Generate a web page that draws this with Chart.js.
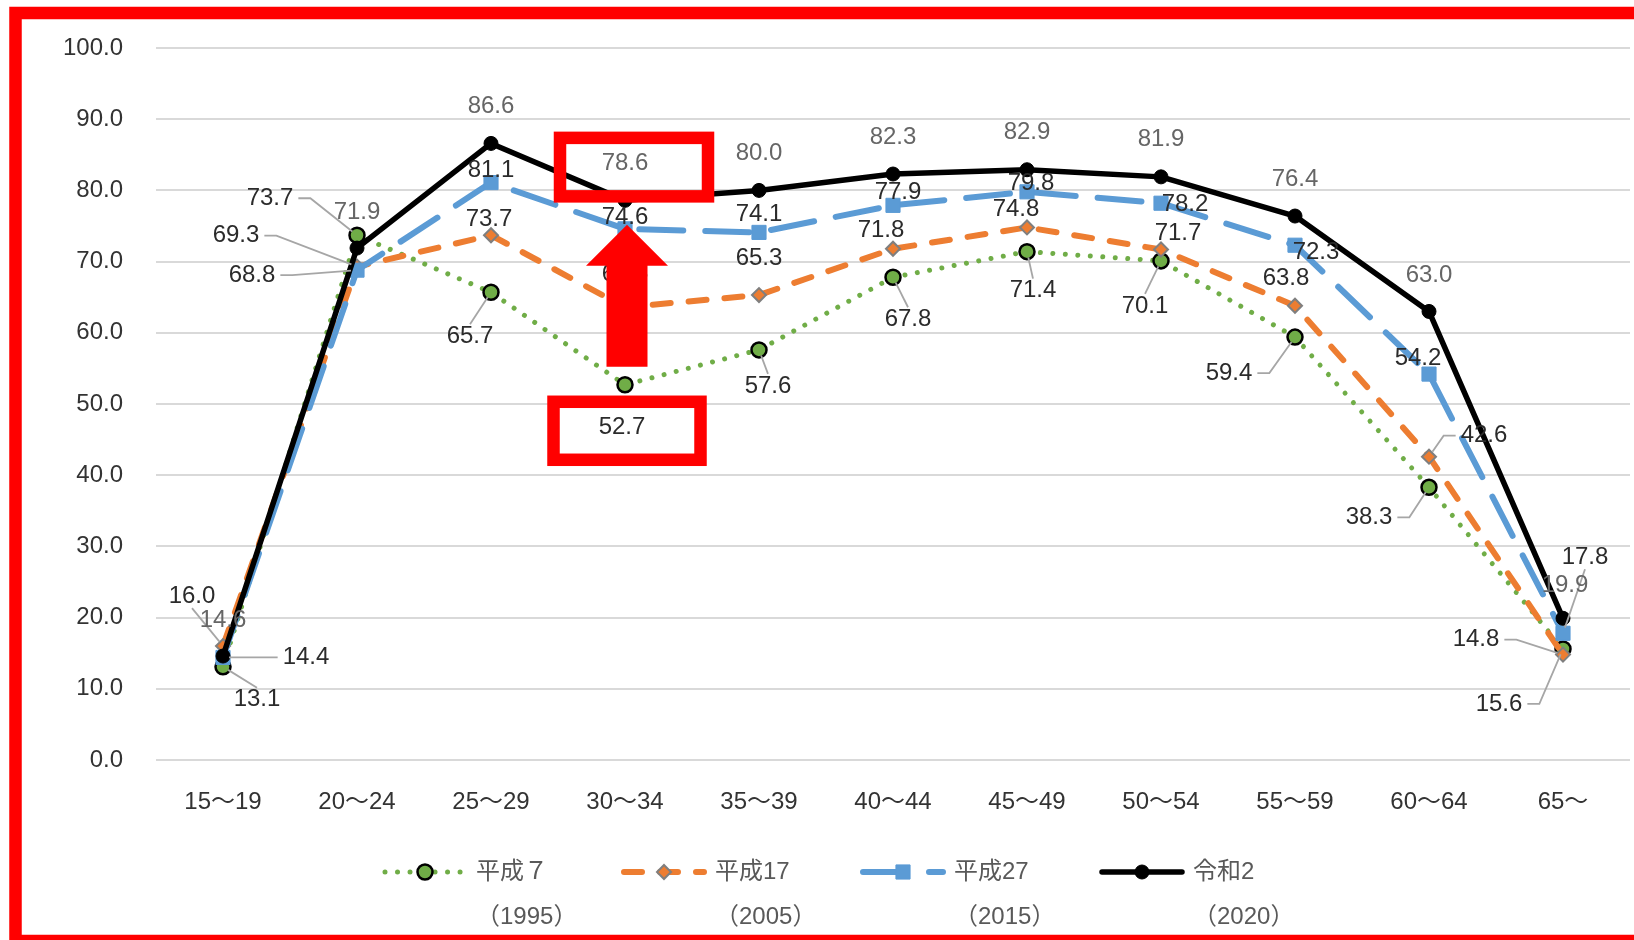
<!DOCTYPE html>
<html lang="ja">
<head>
  <meta charset="UTF-8">
  <title>年齢階級別 女性の労働力率</title>
  <script src="https://cdn.jsdelivr.net/npm/chart.js"></script>
  <style>
    html, body { margin: 0; padding: 0; background: #fff; }
    #wrap { width: 1634px; height: 940px; }
  </style>
</head>
<body>
  <div id="wrap"><canvas id="grafico" width="1634" height="940"></canvas></div>

  <script>
    // categorias (idade) e valores (%)
    const categories = ['15〜19', '20〜24', '25〜29', '30〜34', '35〜39', '40〜44', '45〜49', '50〜54', '55〜59', '60〜64', '65〜'];
    const heisei7 = [13.1, 73.7, 65.7, 52.7, 57.6, 67.8, 71.4, 70.1, 59.4, 38.3, 15.6];
    const heisei17 = [16.0, 69.3, 73.7, 63.6, 65.3, 71.8, 74.8, 71.7, 63.8, 42.6, 14.8];
    const heisei27 = [14.4, 68.8, 81.1, 74.6, 74.1, 77.9, 79.8, 78.2, 72.3, 54.2, 17.8];
    const reiwa2 = [14.6, 71.9, 86.6, 78.6, 80.0, 82.3, 82.9, 81.9, 76.4, 63.0, 19.9];
    const seriesNames = ['平成７', '平成17', '平成27', '令和2'];
    const seriesYears = ['（1995）', '（2005）', '（2015）', '（2020）'];
    const yTicks = [0, 10, 20, 30, 40, 50, 60, 70, 80, 90, 100];

    // posição do rótulo em relação ao ponto: [dx, dy, linha guia]
    const offsH7 = [[34, 33, 'v'], [-87, -37, 'h'], [-21, 44, 'v'], [-3, 43, 0], [9, 36, 'v'], [15, 42, 'v'], [6, 39, 'v'], [-16, 45, 'v'], [-66, 36, 'h'], [-60, 30, 'h'], [-64, 55, 'h']];
    const offsH17 = [[-31, -50, 'v'], [-121, -31, 'h'], [-2, -16, 0], [0, -33, 0], [0, -37, 0], [-12, -18, 0], [-11, -18, 0], [17, -16, 0], [-9, -27, 0], [55, -21, 'h'], [-87, -15, 'h']];
    const offsH27 = [[83, 0, 'h'], [-105, 5, 'h'], [0, -12, 0], [0, -11, 0], [0, -18, 0], [5, -13, 0], [4, -8, 0], [24, 1, 0], [21, 7, 0], [-11, -16, 0], [22, -76, 'v']];
    const offsR2 = [[0, -36, 0], [0, -36, 0], [0, -37, 0], [0, -37, 0], [0, -37, 0], [0, -37, 0], [0, -37, 0], [0, -37, 0], [0, -37, 0], [0, -36, 0], [2, -33, 0]];
    const labelOffsets = [offsH7, offsH17, offsH27, offsR2];
    const labelColors = ['#2b2b2b', '#2b2b2b', '#2b2b2b', '#666666'];

    const FONT = '"Liberation Sans", "Noto Sans CJK JP", sans-serif';
    Chart.defaults.font.family = FONT;
    Chart.defaults.font.size = 24;

    function drawMarker(ctx, ds, x, y) {
      const r = ds.pointRadius;
      ctx.save();
      ctx.setLineDash([]);
      ctx.fillStyle = ds.pointBackgroundColor;
      ctx.strokeStyle = ds.pointBorderColor;
      ctx.lineWidth = ds.pointBorderWidth;
      ctx.beginPath();
      if (ds.pointStyle === 'circle') {
        ctx.arc(x, y, r, 0, Math.PI * 2);
      } else if (ds.pointStyle === 'rect') {
        const s = r * Math.SQRT1_2;
        ctx.rect(x - s, y - s, 2 * s, 2 * s);
      } else {
        ctx.moveTo(x, y - r); ctx.lineTo(x + r, y); ctx.lineTo(x, y + r); ctx.lineTo(x - r, y); ctx.closePath();
      }
      ctx.fill();
      ctx.stroke();
      ctx.restore();
    }

    // rótulos de dados + linhas guia
    const pointLabels = {
      id: 'pointLabels',
      afterDatasetsDraw(chart) {
        const ctx = chart.ctx;
        ctx.save();
        ctx.font = '24px ' + FONT;
        ctx.textAlign = 'center';
        ctx.textBaseline = 'middle';
        chart.data.datasets.forEach((ds, i) => {
          const meta = chart.getDatasetMeta(i);
          meta.data.forEach((pt, j) => {
            const [dx, dy, leader] = labelOffsets[i][j];
            const txt = ds.data[j].toFixed(1);
            const tx = pt.x + dx, ty = pt.y + dy;
            const w = ctx.measureText(txt).width;
            if (leader) {
              let sx, sy, ex, ey;
              if (leader === 'h') {
                const dir = dx < 0 ? 1 : -1;
                sx = tx + dir * (w / 2 + 5); sy = ty;
                ex = sx + dir * 12; ey = ty;
              } else {
                sx = tx; sy = ty + (dy > 0 ? -12 : 12);
                ex = sx; ey = sy;
              }
              const vx = pt.x - ex, vy = pt.y - ey;
              const d = Math.hypot(vx, vy) || 1;
              ctx.beginPath();
              ctx.strokeStyle = '#a6a6a6';
              ctx.lineWidth = 1.8;
              ctx.moveTo(sx, sy);
              ctx.lineTo(ex, ey);
              ctx.lineTo(pt.x - vx / d * 6, pt.y - vy / d * 6);
              ctx.stroke();
            }
            ctx.fillStyle = labelColors[i];
            ctx.fillText(txt, tx, ty);
          });
        });
        ctx.restore();
      }
    };

    // legenda em duas linhas, caixas vermelhas, seta e moldura
    const overlay = {
      id: 'overlay',
      afterDraw(chart) {
        const ctx = chart.ctx;
        ctx.save();

        // legenda
        const legY = 872, legY2 = 917;
        chart.data.datasets.forEach((ds, i) => {
          const x0 = 385 + i * 239;
          ctx.save();
          ctx.strokeStyle = ds.borderColor;
          ctx.lineWidth = ds.borderWidth;
          ctx.lineCap = 'round';
          ctx.setLineDash(ds.borderDash || []);
          ctx.beginPath();
          ctx.moveTo(x0, legY);
          ctx.lineTo(x0 + 80, legY);
          ctx.stroke();
          ctx.restore();
          drawMarker(ctx, ds, x0 + 40, legY);
          ctx.fillStyle = '#595959';
          ctx.font = '24px ' + FONT;
          ctx.textAlign = 'left';
          ctx.textBaseline = 'middle';
          ctx.fillText(seriesNames[i], x0 + 91, legY);
          ctx.fillText(seriesYears[i], x0 + 91, legY2);
        });

        // destaque 30〜34
        const k = categories.indexOf('30〜34');
        const pG = chart.getDatasetMeta(0).data[k];
        const pB = chart.getDatasetMeta(2).data[k];
        const pR = chart.getDatasetMeta(3).data[k];
        ctx.strokeStyle = '#ff0000';
        ctx.lineWidth = 12.5;
        const l1x = pR.x + offsR2[k][0] + 9, l1y = pR.y + offsR2[k][1] + 3.5;
        ctx.strokeRect(l1x - 74, l1y - 29, 148, 58.5);
        const l2x = pG.x + offsH7[k][0] + 5, l2y = pG.y + offsH7[k][1] + 3;
        ctx.strokeRect(l2x - 73.5, l2y - 29, 147, 58);

        const ax = pG.x + 2, tip = pB.y - 4, base = tip + 41, bottom = pG.y - 18;
        ctx.fillStyle = '#ff0000';
        ctx.beginPath();
        ctx.moveTo(ax, tip);
        ctx.lineTo(ax + 41, base);
        ctx.lineTo(ax + 20.5, base);
        ctx.lineTo(ax + 20.5, bottom);
        ctx.lineTo(ax - 20.5, bottom);
        ctx.lineTo(ax - 20.5, base);
        ctx.lineTo(ax - 41, base);
        ctx.closePath();
        ctx.fill();

        // moldura
        ctx.lineWidth = 12.5;
        ctx.strokeRect(15.5, 13, 1700, 928);
        ctx.restore();
      }
    };

    new Chart(document.getElementById('grafico'), {
      type: 'line',
      data: {
        labels: categories,
        datasets: [
          {
            label: seriesNames[0], data: heisei7,
            borderColor: '#70ad47', borderWidth: 5, borderDash: [0.01, 12.5], borderCapStyle: 'round', borderJoinStyle: 'round',
            pointStyle: 'circle', pointRadius: 7.5, pointBackgroundColor: '#70ad47', pointBorderColor: '#000000', pointBorderWidth: 2.5,
            order: 3
          },
          {
            label: seriesNames[1], data: heisei17,
            borderColor: '#ed7d31', borderWidth: 6, borderDash: [18, 18], borderCapStyle: 'round', borderJoinStyle: 'round',
            pointStyle: 'rectRot', pointRadius: 7, pointBackgroundColor: '#ed7d31', pointBorderColor: '#7f7f7f', pointBorderWidth: 2,
            order: 2
          },
          {
            label: seriesNames[2], data: heisei27,
            borderColor: '#5b9bd5', borderWidth: 6, borderDash: [44, 22], borderCapStyle: 'round', borderJoinStyle: 'round',
            pointStyle: 'rect', pointRadius: 10, pointBackgroundColor: '#5b9bd5', pointBorderColor: '#5b9bd5', pointBorderWidth: 1,
            order: 1
          },
          {
            label: seriesNames[3], data: reiwa2,
            borderColor: '#000000', borderWidth: 5.5, borderJoinStyle: 'round',
            pointStyle: 'circle', pointRadius: 7, pointBackgroundColor: '#000000', pointBorderColor: '#000000', pointBorderWidth: 1,
            order: 0
          }
        ]
      },
      options: {
        responsive: false,
        devicePixelRatio: 1,
        animation: false,
        layout: { autoPadding: false, padding: { top: 48, right: 4, left: 0, bottom: 0 } },
        plugins: {
          legend: { display: false },
          tooltip: { enabled: false }
        },
        scales: {
          x: {
            offset: true,
            grid: { display: false, drawTicks: false },
            border: { display: false },
            ticks: { color: '#333333', padding: 28, font: { size: 24 }, autoSkip: false, maxRotation: 0 },
            afterFit: s => { s.height = 180; s.paddingRight = 0; s.paddingLeft = 0; }
          },
          y: {
            min: 0, max: 100,
            afterBuildTicks: s => { s.ticks = yTicks.map(v => ({ value: v })); },
            ticks: { color: '#333333', padding: 33, font: { size: 24 }, callback: v => Number(v).toFixed(1) },
            grid: { color: '#d9d9d9', lineWidth: 2, drawTicks: false },
            border: { display: false },
            afterFit: s => { s.width = 156; }
          }
        }
      },
      plugins: [pointLabels, overlay]
    });
  </script>
</body>
</html>
